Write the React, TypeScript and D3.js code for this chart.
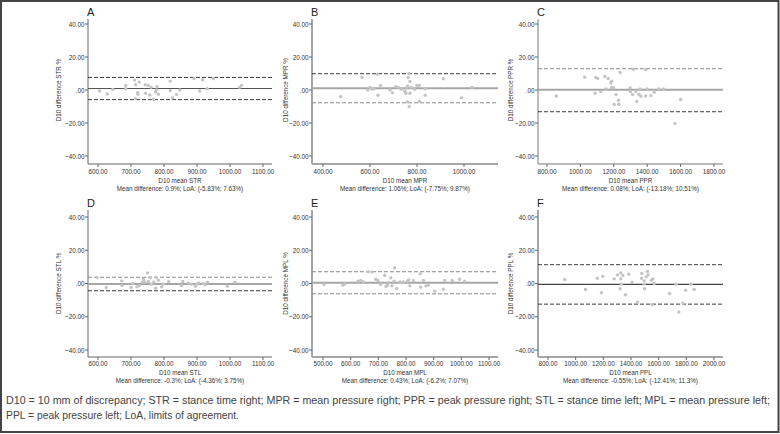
import React, { useEffect } from "react";
import * as d3 from "d3";

// Bland-Altman plots, D10 vs reference
const letters = ["A", "B", "C", "D", "E", "F"];
const measures = ["STR", "MPR", "PPR", "STL", "MPL", "PPL"];
const meanDiff = [0.9, 1.06, 0.08, -0.3, 0.43, -0.55];
const loaLow = [-5.83, -7.75, -13.18, -4.36, -6.2, -12.41];
const loaHigh = [7.63, 9.87, 12.9, 3.75, 7.07, 11.3];
const summaries = [
  "Mean difference: 0.9%; LoA: (-5.83%; 7.63%)",
  "Mean difference: 1.06%; LoA: (-7.75%; 9.87%)",
  "Mean difference: 0.08%; LoA: (-13.18%; 10.51%)",
  "Mean difference: -0.3%; LoA: (-4.36%; 3.75%)",
  "Mean difference: 0.43%; LoA: (-6.2%; 7.07%)",
  "Mean difference: -0.55%; LoA: (-12.41%; 11.3%)",
];
const xTicks = [
  [600, 700, 800, 900, 1000, 1100],
  [400, 600, 800, 1000],
  [800, 1000, 1200, 1400, 1600, 1800],
  [600, 700, 800, 900, 1000, 1100],
  [500, 600, 700, 800, 900, 1000, 1100],
  [800, 1000, 1200, 1400, 1600, 1800, 2000],
];
const yTicks = [-40, -20, 0, 20, 40];

const strPoints = [
  [605, -0.6], [628, -2.4], [645, 0.4], [684, 2.8], [684, 0.8], [711, 6], [714, 3.2],
  [714, -5.2], [720, -1.6], [721, -2.6], [725, 4.8], [743, 3.2], [744, -2], [752, 2.8],
  [757, -3], [761, 1.6], [768, -5.6], [774, -1.2], [777, 0], [779, 2], [783, -2.6],
  [819, 5.4], [819, -0.4], [826, -4.8], [838, -2.8], [848, 0], [891, 7], [908, -0.6],
  [917, 6.2], [931, 0.8], [950, 7], [1029, 1.6], [1035, 2.8],
];
const mprPoints = [
  [475, -4], [566, 7.6], [590, 0], [600, 1.6], [608, 0.6], [617, 0.8], [631, 9.6],
  [634, -3.2], [645, 2.8], [685, 0], [696, -1.6], [710, 2], [721, 1.6], [733, 0.4],
  [748, -0.8], [753, -2], [756, 1.2], [762, 7.6], [765, 10], [770, 5.2], [760, 2.4],
  [759, -7.2], [767, -10], [770, -2], [775, 1.6], [790, 0.4], [799, 2.8], [810, 2.8],
  [810, -6.8], [835, -3.2], [835, 0.8], [912, 6.8], [989, -4.8], [1034, 1.6],
];
const pprPoints = [
  [856, -3.6], [1026, 7.8], [1088, -2], [1092, 7.6], [1104, 7], [1122, -1], [1146, 8.2],
  [1154, 0.6], [1166, 7], [1182, 4.2], [1188, 5.4], [1186, 1.4], [1198, 1.4], [1202, -8.8],
  [1214, -2.8], [1228, -6.2], [1230, -8.6], [1238, 10.6], [1298, 1.2], [1300, -1],
  [1312, -2.8], [1318, 12.6], [1332, -0.8], [1338, -7], [1350, -2.6], [1358, 0.6],
  [1362, -3.8], [1390, -3.6], [1392, 12.4], [1400, 0.6], [1422, -3.4], [1442, -1.4],
  [1470, 0.6], [1498, 0.6], [1566, -20.2], [1600, -5.8],
];
const stlPoints = [
  [597, 3.6], [625, -2.4], [672, 1.6], [673, -1.2], [700, -2.4], [705, 0], [718, -2],
  [726, -1.2], [734, 0.8], [738, 2.4], [742, 0.8], [750, 6.4], [753, 1.2], [759, 3.6],
  [761, -0.4], [769, 0.8], [775, -2.8], [777, 3.6], [783, 2], [793, -2], [797, -0.4],
  [814, 1.2], [853, -1.2], [857, 1.2], [873, 0.4], [883, -0.4], [895, -1.6], [899, -0.4],
  [905, 0.4], [919, 0], [925, -0.8], [932, 0.8], [992, -1.6], [1015, 0.8],
];
const mplPoints = [
  [504, -0.6], [572, -1], [580, -0.2], [627, 1.4], [636, 1.8], [646, 1], [663, 7],
  [677, 7], [691, 2.6], [699, 1.8], [708, -0.6], [723, 5], [728, -1.8], [733, -1],
  [737, 0.6], [745, 3.4], [749, -1.4], [757, 1.4], [759, 9.4], [766, -3], [778, 1],
  [790, 1], [805, 1.4], [810, 2.2], [814, -1.4], [827, 1.8], [851, 5.8], [853, -2.2],
  [863, 1.8], [872, -1.4], [880, -1], [904, -4.6], [935, -3.4], [940, 1.8], [967, 1.8],
  [993, 2.6], [1012, 1.4],
];
const pplPoints = [
  [921, 2.4], [1071, -3.6], [1157, 3.2], [1186, -5.6], [1196, 4.4], [1278, 2.8],
  [1302, 5.2], [1321, -3.2], [1326, 6.4], [1326, 2.8], [1331, -0.4], [1341, 4.8],
  [1360, -6.8], [1384, 5.6], [1408, 0.8], [1447, -11.2], [1476, 3.2], [1478, 6],
  [1495, 1.6], [1495, -0.4], [1498, -3.2], [1510, 4], [1519, 7.2], [1524, 5.2],
  [1548, 2], [1553, -12.8], [1558, 2.8], [1568, 0], [1679, -6], [1727, -0.4],
  [1746, -17.2], [1775, -12], [1795, -4], [1833, -0.4], [1857, -3.6],
];
const allPoints = [strPoints, mprPoints, pprPoints, stlPoints, mplPoints, pplPoints];

const captionLines = [
  "D10 = 10 mm of discrepancy; STR = stance time right; MPR = mean pressure right; PPR = peak pressure right; STL = stance time left; MPL = mean pressure left;",
  "PPL = peak pressure left; LoA, limits of agreement.",
];

// layout
const cols = [
  { left: 88, right: 272, ylab: 61 },
  { left: 312, right: 498, ylab: 288 },
  { left: 538, right: 723, ylab: 513 },
];
// pixel positions of first/last x tick per panel
const xPix = [[98, 263], [323, 464], [547, 714], [98, 263], [323, 489], [548, 714]];
const rows = [
  { top: 19, y40: 24, ym40: 156, bottom: 164, letterY: 16, tickY: 174, xLabY: 183, sumY: 191 },
  { top: 210, y40: 217, ym40: 350, bottom: 357, letterY: 207, tickY: 366, xLabY: 375, sumY: 383 },
];
const dark = "#3a3a3a";
const grey = "#a6a6a6";
const styles = [
  { axis: "#666", axisW: 1, mean: "#555", meanW: 1.2, hi: dark, lo: dark },
  { axis: grey, axisW: 2, mean: grey, meanW: 2, hi: dark, lo: "#8a8a8a" },
  { axis: grey, axisW: 1.5, mean: grey, meanW: 2, hi: "#8a8a8a", lo: dark },
  { axis: "#666", axisW: 1, mean: grey, meanW: 2, hi: "#8a8a8a", lo: dark },
  { axis: grey, axisW: 2, mean: grey, meanW: 2, hi: "#8a8a8a", lo: "#8a8a8a" },
  { axis: grey, axisW: 2, mean: "#444", meanW: 1.2, hi: dark, lo: dark },
];

const font = "'Liberation Sans', Arial, sans-serif";
const squeeze = 0.84;
const fmt = (v: number) => {
  const s = d3.format(".2f")(v);
  return s === "0.00" ? ".00" : s;
};

// condensed text: horizontal squeeze around the anchor point
const CText = ({ x, y, size, anchor, rotate, children }: any) => (
  <text
    transform={`translate(${x},${y})${rotate ? ` rotate(${rotate})` : ""} scale(${squeeze},1)`}
    fontSize={size}
    textAnchor={anchor}
  >
    {children}
  </text>
);

const Panel = ({ i }: { i: number }) => {
  const col = cols[i % 3];
  const row = rows[Math.floor(i / 3)];
  const st = styles[i];
  const ticks = xTicks[i];
  const x = d3
    .scaleLinear()
    .domain([ticks[0], ticks[ticks.length - 1]])
    .range(xPix[i]);
  const y = d3.scaleLinear().domain([-40, 40]).range([row.ym40, row.y40]);
  const cx = (col.left + col.right) / 2;
  const refLine = (v: number, color: string, w: number, dash?: string) => (
    <line
      x1={col.left}
      x2={col.right}
      y1={y(v)}
      y2={y(v)}
      stroke={color}
      strokeWidth={w}
      strokeDasharray={dash}
    />
  );
  return (
    <g fontFamily={font} fill="#333">
      <text x={col.left - 1} y={row.letterY} fontSize={11} fill="#222">
        {letters[i]}
      </text>
      {/* axes */}
      <line x1={col.left} x2={col.left} y1={row.top} y2={row.bottom} stroke={st.axis} strokeWidth={st.axisW} />
      <line x1={col.left} x2={col.right} y1={row.bottom} y2={row.bottom} stroke={st.axis} strokeWidth={st.axisW} />
      {yTicks.map((t) => (
        <g key={t}>
          <line x1={col.left - 3} x2={col.left} y1={y(t)} y2={y(t)} stroke="#666" />
          <CText x={col.left - 3.5} y={y(t) + 2.6} size={7.5} anchor="end">
            {fmt(t)}
          </CText>
        </g>
      ))}
      {ticks.map((t) => (
        <g key={t}>
          <line x1={x(t)} x2={x(t)} y1={row.bottom} y2={row.bottom + 3} stroke="#666" />
          <CText x={x(t)} y={row.tickY} size={7.5} anchor="middle">
            {fmt(t)}
          </CText>
        </g>
      ))}
      {refLine(loaHigh[i], st.hi, 1, "4,2")}
      {refLine(loaLow[i], st.lo, 1, "4,2")}
      {refLine(meanDiff[i], st.mean, st.meanW)}
      {allPoints[i].map((d, k) => (
        <circle key={k} cx={x(d[0])} cy={y(d[1])} r={1.7} fill="#c4c4c4" />
      ))}
      <CText x={col.ylab} y={y(0)} size={7.5} anchor="middle" rotate={-90}>
        {`D10 difference ${measures[i]} %`}
      </CText>
      <CText x={cx} y={row.xLabY} size={7.5} anchor="middle">
        {`D10 mean ${measures[i]}`}
      </CText>
      <CText x={cx} y={row.sumY} size={7.5} anchor="middle">
        {summaries[i]}
      </CText>
    </g>
  );
};

export default function App() {
  useEffect(() => {
    document.body.style.margin = "0";
  }, []);
  const width = 780;
  const height = 434;
  return (
    <svg width={width} height={height} style={{ display: "block", background: "#fff" }}>
      <rect x={1} y={1} width={777.5} height={431} fill="none" stroke="#444" strokeWidth={2} />
      {letters.map((_, i) => (
        <Panel key={i} i={i} />
      ))}
      <g fontFamily={font} fontSize={10.2} fill="#444">
        <text x={6} y={404} textLength={764} lengthAdjust="spacingAndGlyphs">
          {captionLines[0]}
        </text>
        <text x={6} y={419} textLength={233} lengthAdjust="spacingAndGlyphs">
          {captionLines[1]}
        </text>
      </g>
    </svg>
  );
}
